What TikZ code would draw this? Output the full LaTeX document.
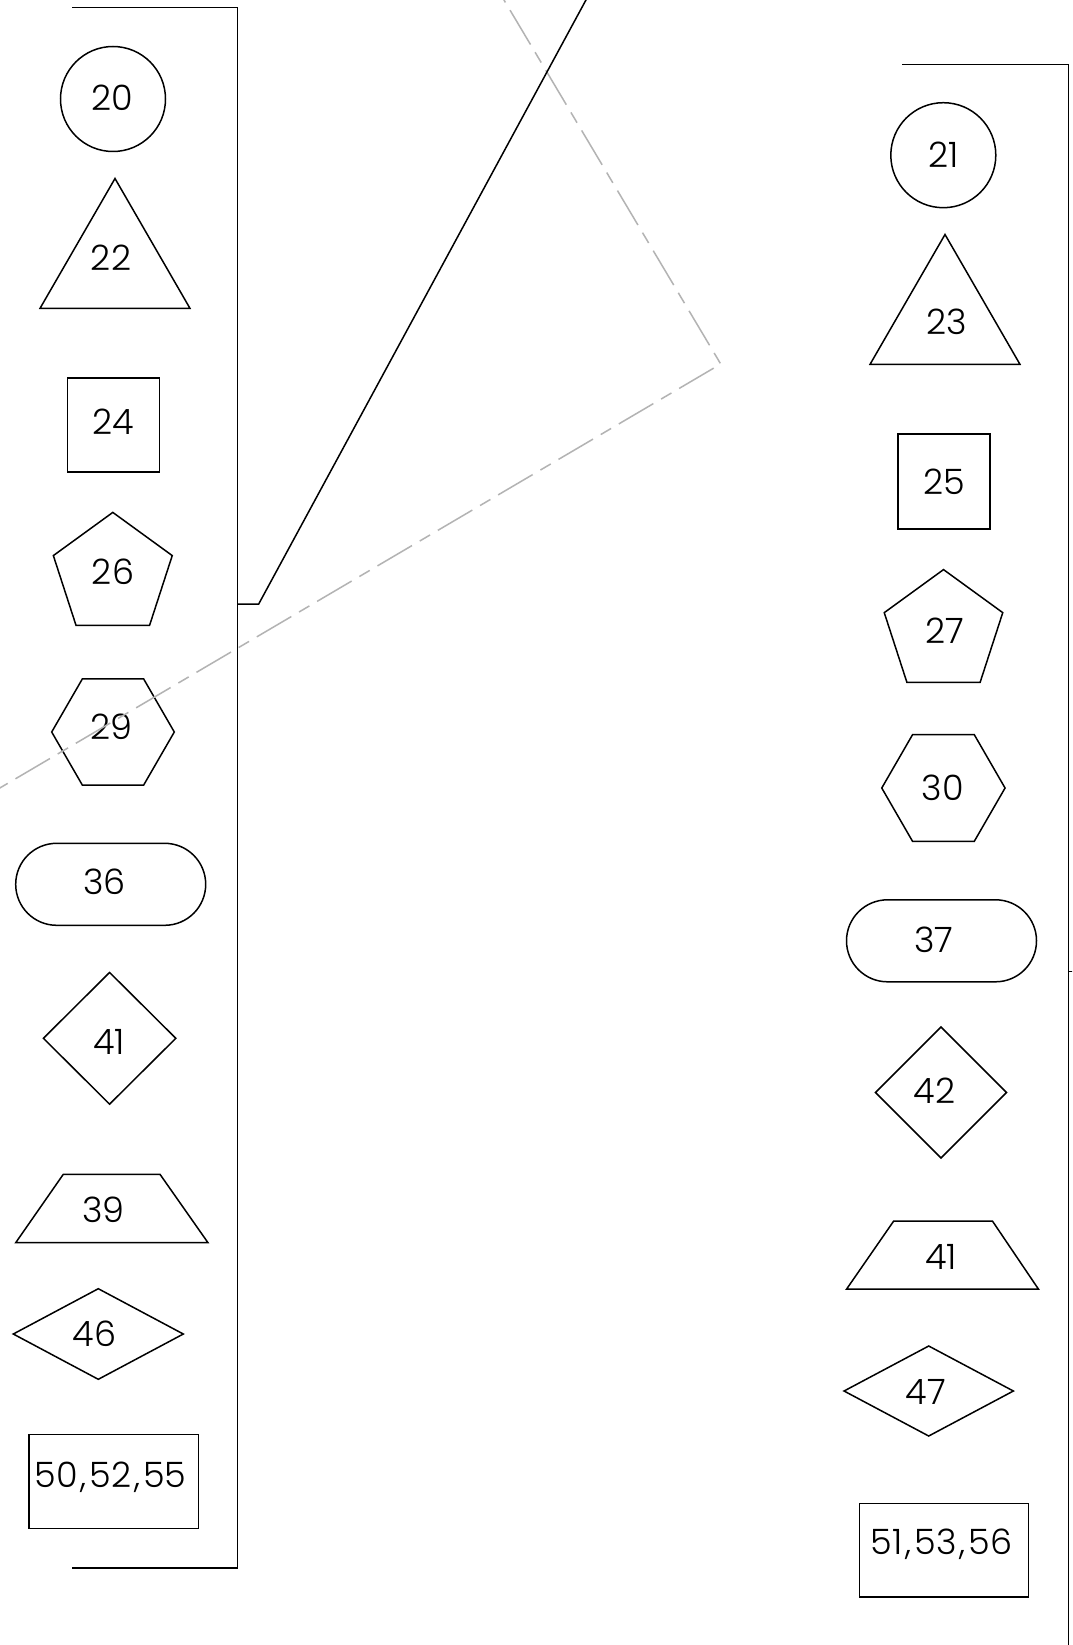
\documentclass[tikz,border=0pt]{standalone}
\usepackage{fontspec}
\setmainfont{Poppins}[UprightFont=* Light]
\usetikzlibrary{shapes.geometric}
\definecolor{dashgray}{HTML}{B3B3B3}
\newcommand{\cm}{\kern3pt,\kern3pt}
\begin{document}
\begin{tikzpicture}[x=1pt,y=-1pt,line width=1.5pt,
  shp/.style={draw=black,line width=1.5pt,inner sep=0pt,outer sep=0pt},
  lbl/.style={font=\fontsize{35}{40}\selectfont,inner sep=0pt},
  tri/.style={shp,regular polygon,regular polygon sides=3},
  pent/.style={shp,regular polygon,regular polygon sides=5},
  hexa/.style={shp,regular polygon,regular polygon sides=6},
  box/.style={shp,rectangle},
  stad/.style={shp,rectangle,rounded corners=41pt,minimum width=190pt,minimum height=82pt},
  dia/.style={shp,diamond},
  bracket/.style={draw=black,line width=1.5pt},
  guide/.style={draw=dashgray,line width=1.5pt,dash pattern=on 40pt off 9pt on 12pt off 9pt}]
\useasboundingbox (0,0) rectangle (1072,1645);
\fill[white] (0,0) rectangle (1072,1645);

% ---------- left column ----------
\node[shp,circle,minimum size=105pt] (s20) at (113,99) {};
\node[lbl] (t20) at (112.5,98) {20};
\node[tri,minimum size=173pt] (s22) at (115,265) {};
\node[lbl] (t22) at (111,258) {22};
\node[box,minimum width=92pt,minimum height=94pt] (s24) at (113.5,424.8) {};
\node[lbl] (t24) at (113.3,421.7) {24};
\node[pent,minimum size=125pt] (s26) at (112.8,574.9) {};
\node[lbl] (t26) at (113,572) {26};
\node[hexa,minimum size=122.6pt] (s29) at (113,732) {};
\node[lbl] (t29) at (111,726.7) {29};
\node[stad] (s36) at (110.7,884.3) {};
\node[lbl] (t36) at (104.4,882.2) {36};
\node[dia,minimum width=132.4pt,minimum height=131.7pt] (s41a) at (109.6,1038.3) {};
\node[lbl] (t41a) at (109,1041.7) {41};
\coordinate (z39a) at (63.3,1174.3);
\coordinate (z39b) at (160,1174.3);
\coordinate (z39c) at (208,1242.7);
\coordinate (z39d) at (15.7,1242.7);
\draw[shp] (z39a) -- (z39b) -- (z39c) -- (z39d) -- cycle;
\node[lbl] (t39) at (103.3,1210) {39};
\node[dia,minimum width=170pt,minimum height=90.6pt] (s46) at (98.3,1334) {};
\node[lbl] (t46) at (94.7,1333.3) {46};
\node[box,minimum width=169.3pt,minimum height=94pt] (s50) at (113.7,1481.3) {};
\node[lbl] (t50) at (110.5,1477.5) {50\cm52\cm55};

% ---------- right column ----------
\node[shp,circle,minimum size=105pt] (s21) at (943.3,155.2) {};
\node[lbl] (t21) at (943.3,155.2) {21};
\node[tri,minimum size=173pt] (s23) at (945,321) {};
\node[lbl] (t23) at (946.7,321.7) {23};
\node[box,minimum width=92pt,minimum height=94.7pt] (s25) at (944,481.4) {};
\node[lbl] (t25) at (944,481.5) {25};
\node[pent,minimum size=124.6pt] (s27) at (943.5,631.9) {};
\node[lbl] (t27) at (945,630.5) {27};
\node[hexa,minimum size=123.3pt] (s30) at (943.4,788) {};
\node[lbl] (t30) at (942.8,788) {30};
\node[stad] (s37) at (941.5,940.8) {};
\node[lbl] (t37) at (934,940.3) {37};
\node[dia,minimum width=131pt,minimum height=131pt] (s42) at (941,1092.5) {};
\node[lbl] (t42) at (934.7,1091) {42};
\coordinate (z41a) at (893.7,1221);
\coordinate (z41b) at (992.4,1221);
\coordinate (z41c) at (1038.5,1289.2);
\coordinate (z41d) at (846.5,1289.2);
\draw[shp] (z41a) -- (z41b) -- (z41c) -- (z41d) -- cycle;
\node[lbl] (t41b) at (941,1256.7) {41};
\node[dia,minimum width=169.3pt,minimum height=90pt] (s47) at (928.7,1391) {};
\node[lbl] (t47) at (926,1391.7) {47};
\node[box,minimum width=169.4pt,minimum height=93.7pt] (s51) at (944,1550.2) {};
\node[lbl] (t51) at (941.7,1544) {51\cm53\cm56};

% ---------- brackets and guide lines ----------
\begin{scope}
\clip (0,0) rectangle (1072,1645);
\coordinate (gA) at (474.2,-50);
\coordinate (gB) at (720.7,364);
\coordinate (gC) at (-50,817.3);
\draw[guide] (gA) -- (gB) -- (gC);

\coordinate (lb1) at (72,7.5);
\coordinate (lb2) at (237.7,7.5);
\coordinate (lb3) at (237.7,1568);
\coordinate (lb4) at (72,1568);
\draw[bracket,line join=miter] (lb1) -- (lb2) -- (lb3) -- (lb4);
\coordinate (st1) at (237.7,604);
\coordinate (st2) at (258.7,604);
\coordinate (st3) at (596.8,-20);
\draw[bracket,line join=miter] (st1) -- (st2) -- (st3);

\coordinate (rb1) at (902,64.3);
\coordinate (rb2) at (1068.3,64.3);
\coordinate (rb3) at (1068.3,1660);
\draw[bracket,line join=miter] (rb1) -- (rb2) -- (rb3);
\coordinate (tk1) at (1068.3,971.7);
\coordinate (tk2) at (1080,971.7);
\draw[bracket] (tk1) -- (tk2);
\end{scope}
\end{tikzpicture}
\end{document}
